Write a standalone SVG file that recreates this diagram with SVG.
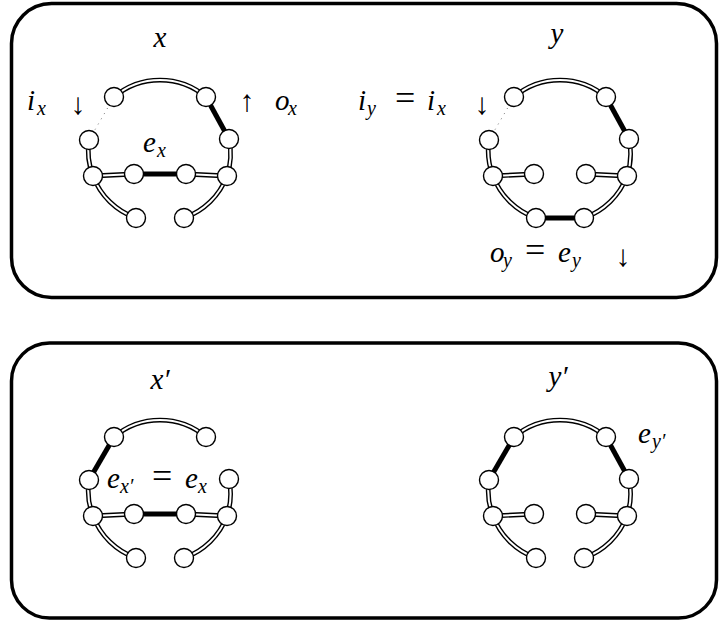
<svg xmlns="http://www.w3.org/2000/svg" xmlns:xlink="http://www.w3.org/1999/xlink" width="719" height="623" viewBox="0 0 719 623">
<defs>
  <path id="dbl" d="M114 97A71 71 0 0 1 206 97M89 140A71 71 0 0 0 93 176M93 176A71 71 0 0 0 136 218M229 139A71 71 0 0 1 227 176M227 176A71 71 0 0 1 184 218M93 176L134 174M186 174L227 176"/>
</defs>
<rect width="719" height="623" fill="#fff"/>
<text font-family="Liberation Serif" font-style="italic" font-size="29" x="160" y="47" text-anchor="middle">x</text>
<text font-family="Liberation Serif" font-style="italic" font-size="29"><tspan x="27" y="110">i</tspan><tspan font-size="20" x="37" y="115">x</tspan></text>
<text font-family="Liberation Serif" font-size="30" x="78" y="114" text-anchor="middle">↓</text>
<text font-family="Liberation Serif" font-size="30" x="247" y="111" text-anchor="middle">↑</text>
<text font-family="Liberation Serif" font-style="italic" font-size="29"><tspan x="275" y="110">o</tspan><tspan font-size="20" x="288" y="115">x</tspan></text>
<text font-family="Liberation Serif" font-style="italic" font-size="29"><tspan x="143" y="152">e</tspan><tspan font-size="20" x="157" y="157">x</tspan></text>
<text font-family="Liberation Serif" font-style="italic" font-size="29" x="557" y="43" text-anchor="middle">y</text>
<text font-family="Liberation Serif" font-style="italic" font-size="29"><tspan x="358" y="110">i</tspan><tspan font-size="20" x="367" y="115">y</tspan><tspan font-style="normal" font-size="36" x="395" y="110">=</tspan><tspan x="427" y="110">i</tspan><tspan font-size="20" x="437" y="115">x</tspan></text>
<text font-family="Liberation Serif" font-size="30" x="482" y="114" text-anchor="middle">↓</text>
<text font-family="Liberation Serif" font-style="italic" font-size="29"><tspan x="490" y="262">o</tspan><tspan font-size="20" x="503" y="267">y</tspan><tspan font-style="normal" font-size="36" x="525" y="262">=</tspan><tspan x="558" y="262">e</tspan><tspan font-size="20" x="572" y="267">y</tspan></text>
<text font-family="Liberation Serif" font-size="30" x="623" y="266" text-anchor="middle">↓</text>
<text font-family="Liberation Serif" font-style="italic" font-size="29" x="160" y="389" text-anchor="middle">x′</text>
<text font-family="Liberation Serif" font-style="italic" font-size="29"><tspan x="107" y="488">e</tspan><tspan font-size="20" x="120" y="493">x′</tspan><tspan font-style="normal" font-size="36" x="152" y="488">=</tspan><tspan x="185" y="488">e</tspan><tspan font-size="20" x="198" y="493">x</tspan></text>
<text font-family="Liberation Serif" font-style="italic" font-size="29" x="558" y="386" text-anchor="middle">y′</text>
<text font-family="Liberation Serif" font-style="italic" font-size="29"><tspan x="638" y="443">e</tspan><tspan font-size="20" x="652" y="448">y′</tspan></text>

<g id="frames" fill="none" stroke="#000" stroke-width="3.5">
  <rect x="11.5" y="3.5" width="705" height="294" rx="40" ry="40"/>
  <rect x="11.5" y="343" width="705" height="275" rx="38" ry="38"/>
</g>

<g id="connectors" fill="none">
  <g stroke="#000" stroke-width="4.8">
    <use xlink:href="#dbl"/>
    <use xlink:href="#dbl" transform="translate(400 0)"/>
    <use xlink:href="#dbl" transform="translate(0 340)"/>
    <use xlink:href="#dbl" transform="translate(400 340)"/>
  </g>
  <g stroke="#fff" stroke-width="2">
    <use xlink:href="#dbl"/>
    <use xlink:href="#dbl" transform="translate(400 0)"/>
    <use xlink:href="#dbl" transform="translate(0 340)"/>
    <use xlink:href="#dbl" transform="translate(400 340)"/>
  </g>
  <g stroke="#000" stroke-width="5">
    <path d="M134 174L186 174"/>
    <path d="M206 97L229 139"/>
    <path d="M536 218L584 218"/>
    <path d="M606 97L629 139"/>
    <path d="M134 514L186 514"/>
    <path d="M114 437L89 480"/>
    <path d="M514 437L489 480"/>
    <path d="M606 437L629 479"/>
  </g>
  <g stroke="#777" stroke-width="1" stroke-dasharray="1 5">
    <path d="M89 140L114 97"/>
    <path d="M489 140L514 97"/>
  </g>
</g>

<g id="nodes" fill="#fff" stroke="#000" stroke-width="1.4">
<g id="x-n1"><circle cx="114" cy="97" r="9.5"/></g>
<g id="x-n2"><circle cx="206" cy="97" r="9.5"/></g>
<g id="x-n3"><circle cx="89" cy="140" r="9.5"/></g>
<g id="x-n4"><circle cx="229" cy="139" r="9.5"/></g>
<g id="x-n5"><circle cx="93" cy="176" r="9.5"/></g>
<g id="x-n6"><circle cx="134" cy="174" r="9.5"/></g>
<g id="x-n7"><circle cx="186" cy="174" r="9.5"/></g>
<g id="x-n8"><circle cx="227" cy="176" r="9.5"/></g>
<g id="x-n9"><circle cx="136" cy="218" r="9.5"/></g>
<g id="x-n10"><circle cx="184" cy="218" r="9.5"/></g>
<g id="y-n1"><circle cx="514" cy="97" r="9.5"/></g>
<g id="y-n2"><circle cx="606" cy="97" r="9.5"/></g>
<g id="y-n3"><circle cx="489" cy="140" r="9.5"/></g>
<g id="y-n4"><circle cx="629" cy="139" r="9.5"/></g>
<g id="y-n5"><circle cx="493" cy="176" r="9.5"/></g>
<g id="y-n6"><circle cx="534" cy="174" r="9.5"/></g>
<g id="y-n7"><circle cx="586" cy="174" r="9.5"/></g>
<g id="y-n8"><circle cx="627" cy="176" r="9.5"/></g>
<g id="y-n9"><circle cx="536" cy="218" r="9.5"/></g>
<g id="y-n10"><circle cx="584" cy="218" r="9.5"/></g>
<g id="xp-n1"><circle cx="114" cy="437" r="9.5"/></g>
<g id="xp-n2"><circle cx="206" cy="437" r="9.5"/></g>
<g id="xp-n3"><circle cx="89" cy="480" r="9.5"/></g>
<g id="xp-n4"><circle cx="229" cy="479" r="9.5"/></g>
<g id="xp-n5"><circle cx="93" cy="516" r="9.5"/></g>
<g id="xp-n6"><circle cx="134" cy="514" r="9.5"/></g>
<g id="xp-n7"><circle cx="186" cy="514" r="9.5"/></g>
<g id="xp-n8"><circle cx="227" cy="516" r="9.5"/></g>
<g id="xp-n9"><circle cx="136" cy="558" r="9.5"/></g>
<g id="xp-n10"><circle cx="184" cy="558" r="9.5"/></g>
<g id="yp-n1"><circle cx="514" cy="437" r="9.5"/></g>
<g id="yp-n2"><circle cx="606" cy="437" r="9.5"/></g>
<g id="yp-n3"><circle cx="489" cy="480" r="9.5"/></g>
<g id="yp-n4"><circle cx="629" cy="479" r="9.5"/></g>
<g id="yp-n5"><circle cx="493" cy="516" r="9.5"/></g>
<g id="yp-n6"><circle cx="534" cy="514" r="9.5"/></g>
<g id="yp-n7"><circle cx="586" cy="514" r="9.5"/></g>
<g id="yp-n8"><circle cx="627" cy="516" r="9.5"/></g>
<g id="yp-n9"><circle cx="536" cy="558" r="9.5"/></g>
<g id="yp-n10"><circle cx="584" cy="558" r="9.5"/></g>
</g>
</svg>
